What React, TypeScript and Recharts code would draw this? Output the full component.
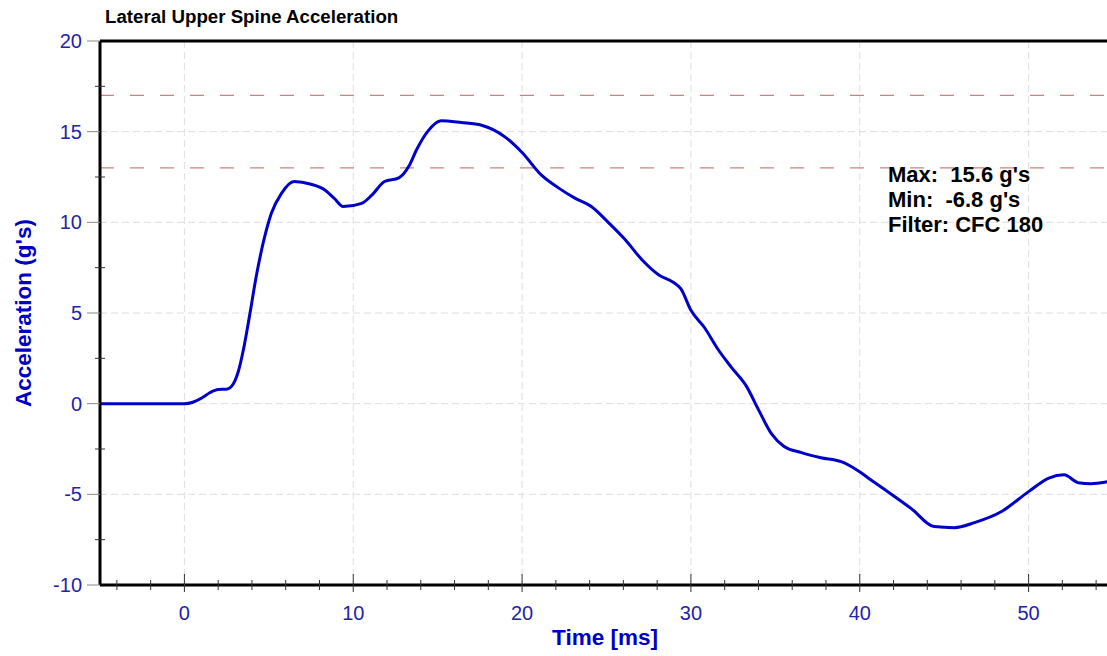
import { LineChart, Line, XAxis, YAxis, CartesianGrid, ReferenceLine } from "recharts";

// values
const timeMs = [
  -5, 0, 0.5, 1.0, 1.5, 2.0, 2.5, 2.9, 3.2, 3.5, 3.85, 4.25, 4.7, 5.15, 5.75, 6.5, 7.5, 8.3, 8.9, 9.4,
  10.5, 11.1, 11.85, 12.7, 13.3, 13.75, 14.4, 15.2, 16.4, 17.6, 19.0, 20.0, 21.15, 22.15, 23.1, 24.1,
  25.1, 26.1, 27.1, 28.1, 29.0, 29.4, 30.0, 30.8, 31.6, 32.4, 33.3, 34.0, 34.8, 35.5, 36.55, 37.7,
  38.9, 39.9, 40.5, 41.5, 43.07, 44.4, 45.6, 46.8, 48.4, 50.0, 51.2, 52.1, 52.95, 53.7, 54.7, 55,
];
const accelG = [
  0, 0, 0.08, 0.3, 0.6, 0.78, 0.8, 1.1, 1.8, 3.0, 4.8, 7.0, 9.0, 10.5, 11.6, 12.25, 12.1, 11.8, 11.3, 10.87,
  11.05, 11.5, 12.25, 12.45, 13.1, 14.0, 15.0, 15.6, 15.5, 15.35, 14.7, 13.85, 12.6, 11.9, 11.35, 10.87,
  10.0, 9.05, 7.94, 7.1, 6.67, 6.35, 5.15, 4.2, 3.0, 2.0, 0.94, -0.33, -1.7, -2.35, -2.7, -2.98,
  -3.2, -3.7, -4.1, -4.75, -5.8, -6.78, -6.84, -6.56, -5.95, -4.85, -4.1, -3.92, -4.36, -4.41, -4.3, -4.25,
];

const xTicks = [-4, -2, 0, 2, 4, 6, 8, 10, 12, 14, 16, 18, 20, 22, 24, 26, 28, 30, 32, 34, 36, 38, 40, 42, 44, 46, 48, 50, 52, 54];
const yTicks = [-10, -7.5, -5, -2.5, 0, 2.5, 5, 7.5, 10, 12.5, 15, 17.5, 20];
const xGrid = [0, 10, 20, 30, 40, 50];
const yGrid = [-5, 0, 5, 10, 15];
const limitLines = [17, 13];
const statLines = ["Max:  15.6 g's", "Min:  -6.8 g's", "Filter: CFC 180"];

const data = timeMs.map((t, i) => ({ t, g: accelG[i] }));

const FONT = "Arial, 'Liberation Sans', sans-serif";
const TICK_BLUE = "#2323a8";
const TITLE_BLUE = "#0000c4";

function XTick({ x, y, payload }: any) {
  const v = payload.value;
  const major = v % 10 === 0;
  return (
    <g>
      {major ? (
        <line x1={x} x2={x} y1={y - 11} y2={y + 7} stroke="#333" strokeWidth={1} />
      ) : (
        <line x1={x} x2={x} y1={y - 5} y2={y + 5} stroke="#333" strokeWidth={1} />
      )}
      {major && (
        <text x={x} y={y + 35} textAnchor="middle" fontSize={20} fill={TICK_BLUE} fontFamily={FONT}>
          {v}
        </text>
      )}
    </g>
  );
}

function YTick({ x, y, payload }: any) {
  const v = payload.value;
  const major = v % 5 === 0;
  return (
    <g>
      {major ? (
        <line x1={x - 13} x2={x} y1={y} y2={y} stroke="#888" strokeWidth={1} />
      ) : (
        <line x1={x - 5} x2={x + 5} y1={y} y2={y} stroke="#333" strokeWidth={1} />
      )}
      {major && (
        <text x={x - 18} y={y + 7} textAnchor="end" fontSize={20} fill={TICK_BLUE} fontFamily={FONT}>
          {v}
        </text>
      )}
    </g>
  );
}

export default function App() {
  return (
    <div style={{ position: "absolute", left: 0, top: 0, width: 1107, height: 656, overflow: "hidden", background: "#fff" }}>
      <LineChart width={1113} height={656} data={data} margin={{ top: 41, right: 0, left: 0, bottom: 0 }}>
        <CartesianGrid
          horizontalValues={yGrid}
          verticalValues={xGrid}
          stroke="#dedede"
          strokeDasharray="7 4"
        />
        <XAxis
          dataKey="t"
          type="number"
          domain={[-5, 55]}
          ticks={xTicks}
          height={71}
          tickSize={0}
          tickMargin={0}
          tickLine={false}
          axisLine={{ stroke: "#000", strokeWidth: 3 }}
          tick={<XTick />}
          interval={0}
          allowDataOverflow
        />
        <YAxis
          type="number"
          domain={[-10, 20]}
          ticks={yTicks}
          width={100}
          tickSize={0}
          tickMargin={0}
          tickLine={false}
          axisLine={{ stroke: "#000", strokeWidth: 3 }}
          tick={<YTick />}
          interval={0}
          allowDataOverflow
        />
        {limitLines.map((v) => (
          <ReferenceLine key={v} y={v} stroke="#d08080" strokeWidth={1.2} strokeDasharray="14 16" />
        ))}
        <ReferenceLine y={20} stroke="#000" strokeWidth={3} />
        <Line
          type="monotone"
          dataKey="g"
          stroke="#0000c8"
          strokeWidth={3}
          dot={false}
          isAnimationActive={false}
        />
      </LineChart>
      <svg width={1107} height={656} style={{ position: "absolute", left: 0, top: 0, pointerEvents: "none" }}>
        <text x={105} y={23} fontSize={18.7} fontWeight="bold" fill="#000" fontFamily={FONT}>
          Lateral Upper Spine Acceleration
        </text>
        <text
          transform="translate(31,313) rotate(-90)"
          textAnchor="middle"
          fontSize={22.5}
          fontWeight="bold"
          fill={TITLE_BLUE}
          fontFamily={FONT}
        >
          Acceleration (g's)
        </text>
        <text x={605} y={645} textAnchor="middle" fontSize={22.5} fontWeight="bold" fill={TITLE_BLUE} fontFamily={FONT}>
          Time [ms]
        </text>
        {statLines.map((s, i) => (
          <text
            key={s}
            x={888}
            y={182 + i * 25}
            fontSize={22}
            fontWeight="bold"
            fill="#000"
            fontFamily={FONT}
            style={{ whiteSpace: "pre" }}
          >
            {s}
          </text>
        ))}
      </svg>
    </div>
  );
}
